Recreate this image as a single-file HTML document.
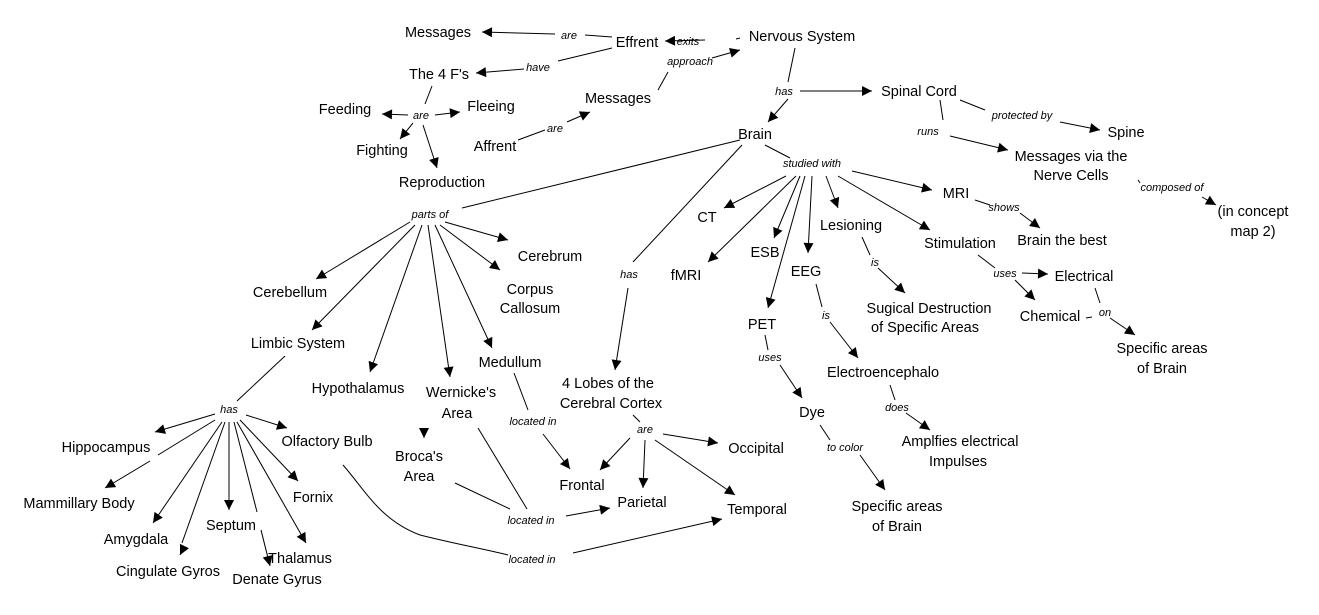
<!DOCTYPE html>
<html><head><meta charset="utf-8"><style>
html,body{margin:0;padding:0;background:#fff;}
svg{display:block;}
text{font-family:"Liberation Sans",Arial,sans-serif;fill:#000;}
.n{font-size:14.5px;text-anchor:middle;}
.l{font-size:11px;font-style:italic;text-anchor:middle;}
line,path{stroke:#000;stroke-width:1;fill:none;}
</style></head><body>
<svg width="1319" height="615" viewBox="0 0 1319 615" xmlns="http://www.w3.org/2000/svg">
<defs><marker id="a" viewBox="0 0 10 10" refX="10" refY="5" markerWidth="12" markerHeight="10" markerUnits="userSpaceOnUse" orient="auto"><path d="M0,0 L10,5 L0,10 z" style="fill:#000;stroke:none"/></marker></defs>
<g>
<line x1="612" y1="37" x2="585" y2="35"/><line x1="555" y1="34" x2="482" y2="32" marker-end="url(#a)"/>
<line x1="612" y1="48" x2="558" y2="61"/><line x1="524" y1="69" x2="476" y2="73" marker-end="url(#a)"/>
<line x1="740" y1="38" x2="736" y2="39"/><line x1="705" y1="40" x2="665" y2="41" marker-end="url(#a)"/>
<line x1="658" y1="90" x2="668" y2="72"/><line x1="712" y1="58" x2="740" y2="50" marker-end="url(#a)"/>
<line x1="432" y1="86" x2="425" y2="104"/>
<line x1="408" y1="115" x2="382" y2="114" marker-end="url(#a)"/>
<line x1="435" y1="115" x2="460" y2="112" marker-end="url(#a)"/>
<line x1="413" y1="123" x2="400" y2="139" marker-end="url(#a)"/>
<line x1="423" y1="125" x2="437" y2="168" marker-end="url(#a)"/>
<line x1="518" y1="140" x2="545" y2="130"/><line x1="567" y1="122" x2="590" y2="112" marker-end="url(#a)"/>
<line x1="795" y1="48" x2="788" y2="82"/><line x1="800" y1="91" x2="872" y2="91" marker-end="url(#a)"/>
<line x1="960" y1="100" x2="985" y2="110"/><line x1="1060" y1="122" x2="1100" y2="130" marker-end="url(#a)"/>
<line x1="940" y1="100" x2="943" y2="120"/><line x1="950" y1="136" x2="1008" y2="150" marker-end="url(#a)"/>
<line x1="1138" y1="180" x2="1140" y2="183"/><line x1="1202" y1="197" x2="1216" y2="205" marker-end="url(#a)"/>
<line x1="788" y1="99" x2="768" y2="122" marker-end="url(#a)"/>
<line x1="765" y1="145" x2="790" y2="158"/>
<line x1="852" y1="171" x2="932" y2="190" marker-end="url(#a)"/>
<line x1="838" y1="176" x2="930" y2="230" marker-end="url(#a)"/>
<line x1="826" y1="176" x2="838" y2="208" marker-end="url(#a)"/>
<line x1="812" y1="176" x2="808" y2="253" marker-end="url(#a)"/>
<line x1="800" y1="176" x2="774" y2="238" marker-end="url(#a)"/>
<line x1="786" y1="176" x2="724" y2="208" marker-end="url(#a)"/>
<line x1="796" y1="176" x2="708" y2="262" marker-end="url(#a)"/>
<line x1="805" y1="176" x2="768" y2="308" marker-end="url(#a)"/>
<line x1="740" y1="140" x2="462" y2="208"/>
<line x1="410" y1="222" x2="316" y2="279" marker-end="url(#a)"/>
<line x1="415" y1="225" x2="312" y2="330" marker-end="url(#a)"/>
<line x1="422" y1="225" x2="370" y2="372" marker-end="url(#a)"/>
<line x1="428" y1="225" x2="450" y2="377" marker-end="url(#a)"/>
<line x1="435" y1="225" x2="492" y2="348" marker-end="url(#a)"/>
<line x1="440" y1="225" x2="500" y2="270" marker-end="url(#a)"/>
<line x1="445" y1="222" x2="508" y2="240" marker-end="url(#a)"/>
<line x1="424" y1="428" x2="424" y2="438" marker-end="url(#a)"/>
<line x1="742" y1="145" x2="633" y2="262"/><line x1="628" y1="288" x2="615" y2="370" marker-end="url(#a)"/>
<line x1="975" y1="200" x2="990" y2="205"/><line x1="1020" y1="213" x2="1040" y2="228" marker-end="url(#a)"/>
<line x1="862" y1="237" x2="870" y2="255"/><line x1="878" y1="268" x2="905" y2="293" marker-end="url(#a)"/>
<line x1="978" y1="255" x2="995" y2="268"/>
<line x1="1022" y1="273" x2="1048" y2="274" marker-end="url(#a)"/>
<line x1="1015" y1="280" x2="1035" y2="300" marker-end="url(#a)"/>
<line x1="1095" y1="288" x2="1100" y2="303"/><line x1="1110" y1="318" x2="1135" y2="335" marker-end="url(#a)"/>
<line x1="1086" y1="318" x2="1092" y2="317"/>
<line x1="816" y1="284" x2="822" y2="307"/><line x1="830" y1="322" x2="858" y2="358" marker-end="url(#a)"/>
<line x1="765" y1="335" x2="768" y2="350"/><line x1="780" y1="365" x2="802" y2="398" marker-end="url(#a)"/>
<line x1="890" y1="385" x2="895" y2="400"/><line x1="906" y1="413" x2="930" y2="430" marker-end="url(#a)"/>
<line x1="820" y1="425" x2="830" y2="440"/><line x1="860" y1="455" x2="885" y2="490" marker-end="url(#a)"/>
<line x1="285" y1="356" x2="237" y2="401"/>
<line x1="215" y1="414" x2="155" y2="432" marker-end="url(#a)"/>
<line x1="215" y1="420" x2="158" y2="455"/><line x1="150" y1="461" x2="105" y2="488" marker-end="url(#a)"/>
<line x1="222" y1="422" x2="153" y2="523" marker-end="url(#a)"/>
<line x1="225" y1="422" x2="182" y2="543"/><line x1="182" y1="551" x2="180" y2="555" marker-end="url(#a)"/>
<line x1="229" y1="422" x2="229" y2="510" marker-end="url(#a)"/>
<line x1="234" y1="422" x2="257" y2="512"/><line x1="261" y1="530" x2="270" y2="566" marker-end="url(#a)"/>
<line x1="237" y1="422" x2="306" y2="543" marker-end="url(#a)"/>
<line x1="240" y1="420" x2="298" y2="481" marker-end="url(#a)"/>
<line x1="246" y1="415" x2="287" y2="428" marker-end="url(#a)"/>
<line x1="514" y1="373" x2="528" y2="410"/><line x1="543" y1="434" x2="570" y2="469" marker-end="url(#a)"/>
<line x1="633" y1="415" x2="640" y2="422"/>
<line x1="630" y1="438" x2="600" y2="470" marker-end="url(#a)"/>
<line x1="645" y1="440" x2="643" y2="488" marker-end="url(#a)"/>
<line x1="663" y1="434" x2="718" y2="443" marker-end="url(#a)"/>
<line x1="655" y1="440" x2="735" y2="495" marker-end="url(#a)"/>
<line x1="455" y1="483" x2="510" y2="509"/>
<line x1="478" y1="428" x2="527" y2="509"/>
<line x1="566" y1="516" x2="610" y2="508" marker-end="url(#a)"/>
<path d="M343 465 C365 490,380 520,420 535 C460 545,480 548,508 555"/>
<line x1="573" y1="553" x2="722" y2="519" marker-end="url(#a)"/>
</g>
<g class="n">
<text x="438" y="37">Messages</text>
<text x="637" y="47">Effrent</text>
<text x="802" y="41">Nervous System</text>
<text x="439" y="79">The 4 F's</text>
<text x="618" y="103">Messages</text>
<text x="345" y="114">Feeding</text>
<text x="491" y="111">Fleeing</text>
<text x="382" y="155">Fighting</text>
<text x="495" y="151">Affrent</text>
<text x="442" y="187">Reproduction</text>
<text x="919" y="96">Spinal Cord</text>
<text x="1126" y="137">Spine</text>
<text x="1071" y="161">Messages via the</text>
<text x="1071" y="180">Nerve Cells</text>
<text x="1253" y="216">(in concept</text>
<text x="1253" y="236">map 2)</text>
<text x="755" y="139">Brain</text>
<text x="956" y="198">MRI</text>
<text x="1062" y="245">Brain the best</text>
<text x="707" y="222">CT</text>
<text x="851" y="230">Lesioning</text>
<text x="960" y="248">Stimulation</text>
<text x="765" y="257">ESB</text>
<text x="806" y="276">EEG</text>
<text x="686" y="280">fMRI</text>
<text x="550" y="261">Cerebrum</text>
<text x="290" y="297">Cerebellum</text>
<text x="530" y="294">Corpus</text>
<text x="530" y="313">Callosum</text>
<text x="1084" y="281">Electrical</text>
<text x="762" y="329">PET</text>
<text x="929" y="313">Sugical Destruction</text>
<text x="925" y="332">of Specific Areas</text>
<text x="1050" y="321">Chemical</text>
<text x="298" y="348">Limbic System</text>
<text x="1162" y="353">Specific areas</text>
<text x="1162" y="373">of Brain</text>
<text x="510" y="367">Medullum</text>
<text x="358" y="393">Hypothalamus</text>
<text x="461" y="397">Wernicke's</text>
<text x="457" y="418">Area</text>
<text x="608" y="388">4 Lobes of the</text>
<text x="611" y="408">Cerebral Cortex</text>
<text x="883" y="377">Electroencephalo</text>
<text x="812" y="417">Dye</text>
<text x="960" y="446">Amplfies electrical</text>
<text x="958" y="466">Impulses</text>
<text x="106" y="452">Hippocampus</text>
<text x="327" y="446">Olfactory Bulb</text>
<text x="756" y="453">Occipital</text>
<text x="419" y="461">Broca's</text>
<text x="419" y="481">Area</text>
<text x="582" y="490">Frontal</text>
<text x="313" y="502">Fornix</text>
<text x="79" y="508">Mammillary Body</text>
<text x="642" y="507">Parietal</text>
<text x="757" y="514">Temporal</text>
<text x="897" y="511">Specific areas</text>
<text x="897" y="531">of Brain</text>
<text x="231" y="530">Septum</text>
<text x="136" y="544">Amygdala</text>
<text x="300" y="563">Thalamus</text>
<text x="168" y="576">Cingulate Gyros</text>
<text x="277" y="584">Denate Gyrus</text>
</g>
<g class="l">
<text x="569" y="39">are</text>
<text x="538" y="71">have</text>
<text x="688" y="45">exits</text>
<text x="690" y="65">approach</text>
<text x="421" y="119">are</text>
<text x="555" y="132">are</text>
<text x="784" y="95">has</text>
<text x="1022" y="119">protected by</text>
<text x="928" y="135">runs</text>
<text x="1172" y="191">composed of</text>
<text x="812" y="167">studied with</text>
<text x="1004" y="211">shows</text>
<text x="430" y="218">parts of</text>
<text x="629" y="278">has</text>
<text x="875" y="266">is</text>
<text x="1005" y="277">uses</text>
<text x="826" y="319">is</text>
<text x="1105" y="316">on</text>
<text x="770" y="361">uses</text>
<text x="897" y="411">does</text>
<text x="229" y="413">has</text>
<text x="533" y="425">located in</text>
<text x="645" y="433">are</text>
<text x="845" y="451">to color</text>
<text x="531" y="524">located in</text>
<text x="532" y="563">located in</text>
</g>
</svg>
</body></html>
